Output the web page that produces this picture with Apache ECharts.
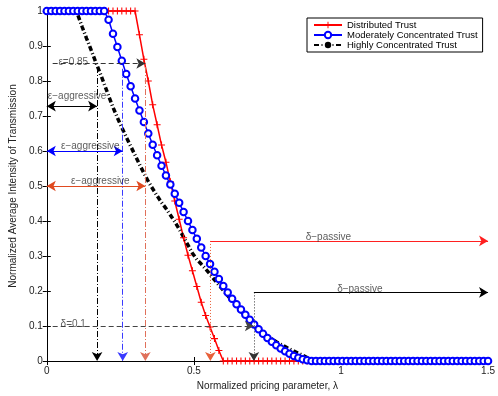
<!DOCTYPE html>
<html>
<head>
<meta charset="utf-8">
<script src="https://cdn.jsdelivr.net/npm/echarts@6/dist/echarts.min.js"></script>
<style>
  html, body { margin: 0; padding: 0; background: #fff; }
  #chart-container { width: 498px; height: 396px; }
</style>
</head>
<body>
<div id="chart-container"></div>
<script>
var dom = document.getElementById("chart-container");
var myChart = echarts.init(dom, null, { renderer: "canvas" });

// normalized pricing parameter (sample points of the curves)
var lambda = [
  0, 0.015, 0.03, 0.045, 0.06, 0.075, 0.09, 0.105, 0.12, 0.135,
  0.15, 0.165, 0.18, 0.195, 0.21, 0.225, 0.24, 0.255, 0.27, 0.285,
  0.3, 0.315, 0.33, 0.345, 0.36, 0.375, 0.39, 0.405, 0.42, 0.435,
  0.45, 0.465, 0.48, 0.495, 0.51, 0.525, 0.54, 0.555, 0.57, 0.585,
  0.6, 0.615, 0.63, 0.645, 0.66, 0.675, 0.69, 0.705, 0.72, 0.735,
  0.75, 0.765, 0.78, 0.795, 0.81, 0.825, 0.84, 0.855, 0.87, 0.885,
  0.9, 0.915, 0.93, 0.945, 0.96, 0.975, 0.99, 1.005, 1.02, 1.035,
  1.05, 1.065, 1.08, 1.095, 1.11, 1.125, 1.14, 1.155, 1.17, 1.185,
  1.2, 1.215, 1.23, 1.245, 1.26, 1.275, 1.29, 1.305, 1.32, 1.335,
  1.35, 1.365, 1.38, 1.395, 1.41, 1.425, 1.44, 1.455, 1.47, 1.485,
  1.5
];

var distributed = [
  1, 1, 1, 1, 1, 1, 1, 1, 1, 1,
  1, 1, 1, 1, 1, 1, 1, 1, 1, 1,
  1, 0.932, 0.862, 0.8, 0.732, 0.675, 0.617, 0.568, 0.512, 0.457,
  0.405, 0.352, 0.302, 0.258, 0.213, 0.168, 0.13, 0.097, 0.064, 0.03,
  0, 0, 0, 0, 0, 0, 0, 0, 0, 0,
  0, 0, 0, 0, 0, 0, 0, 0, 0, 0,
  0, 0, 0, 0, 0, 0, 0, 0, 0, 0,
  0, 0, 0, 0, 0, 0, 0, 0, 0, 0,
  0, 0, 0, 0, 0, 0, 0, 0, 0, 0,
  0, 0, 0, 0, 0, 0, 0, 0, 0, 0,
  0
];

var moderate = [
  1, 1, 1, 1, 1, 1, 1, 1, 1, 1,
  1, 1, 1, 1, 0.975, 0.935, 0.897, 0.858, 0.82, 0.785,
  0.75, 0.716, 0.683, 0.65, 0.618, 0.588, 0.558, 0.53, 0.504, 0.478,
  0.452, 0.426, 0.4, 0.374, 0.349, 0.324, 0.3, 0.277, 0.255, 0.234,
  0.214, 0.196, 0.178, 0.162, 0.147, 0.132, 0.118, 0.104, 0.091, 0.078,
  0.066, 0.055, 0.045, 0.036, 0.028, 0.021, 0.014, 0.009, 0.005, 0.002,
  0, 0, 0, 0, 0, 0, 0, 0, 0, 0,
  0, 0, 0, 0, 0, 0, 0, 0, 0, 0,
  0, 0, 0, 0, 0, 0, 0, 0, 0, 0,
  0, 0, 0, 0, 0, 0, 0, 0, 0, 0,
  0
];

var highly = [
  1, 1, 1, 1, 1, 1, 1, 0.99, 0.955, 0.922,
  0.89, 0.857, 0.825, 0.792, 0.758, 0.725, 0.695, 0.667, 0.64, 0.614,
  0.588, 0.562, 0.537, 0.513, 0.492, 0.472, 0.453, 0.436, 0.417, 0.398,
  0.377, 0.354, 0.331, 0.308, 0.29, 0.277, 0.263, 0.248, 0.232, 0.217,
  0.202, 0.187, 0.172, 0.157, 0.142, 0.128, 0.114, 0.1, 0.09, 0.08,
  0.071, 0.063, 0.055, 0.048, 0.041, 0.034, 0.028, 0.022, 0.016, 0.01,
  0.004, 0, 0, 0, 0, 0, 0, 0, 0, 0,
  0, 0, 0, 0, 0, 0, 0, 0, 0, 0,
  0, 0, 0, 0, 0, 0, 0, 0, 0, 0,
  0, 0, 0, 0, 0, 0, 0, 0, 0, 0,
  0
];

var seriesNames = ["Distributed Trust", "Moderately Concentrated Trust", "Highly Concentrated Trust"];

// thresholds and where the curves cross them
var epsLevel = 0.85;
var deltaLevel = 0.1;
var epsCross = { highly: 0.171, moderate: 0.258, distributed: 0.335 };
var aggressiveY = { highly: 0.728, moderate: 0.6, distributed: 0.5 };
var deltaCross = { distributed: 0.556, concentrated: 0.704 };
var passiveY = { distributed: 0.343, concentrated: 0.196 };

var notes = [
  { name: "ε=0.85", value: [0.09, 0.855] },
  { name: "ε−aggressive", value: [0.103, 0.757] },
  { name: "ε−aggressive", value: [0.148, 0.614] },
  { name: "ε−aggressive", value: [0.182, 0.513] },
  { name: "δ=0.1", value: [0.09, 0.106] },
  { name: "δ−passive", value: [0.957, 0.355] },
  { name: "δ−passive", value: [1.064, 0.206] }
];

var FONT = "Liberation Sans";

function pairs(ys) {
  return lambda.map(function (x, i) { return [x, ys[i]]; });
}

function seg(from, to, color, type, s0, s1) {
  return [
    { coord: from, symbol: s0, lineStyle: { color: color, type: type, width: 1 } },
    { coord: to, symbol: s1 }
  ];
}

var plus = "path://M-0.9,-6H0.9V-0.9H6V0.9H0.9V6H-0.9V0.9H-6V-0.9H-0.9Z";

var option = {
  animation: false,
  textStyle: { fontFamily: FONT },
  grid: { left: 43, right: 7, top: 11, bottom: 34 },
  legend: {
    data: seriesNames,
    orient: "vertical",
    left: 307,
    top: 18,
    padding: [2, 5, 2, 6],
    itemGap: 0,
    itemWidth: 28,
    itemHeight: 8,
    borderColor: "#000",
    borderWidth: 1,
    backgroundColor: "#fff",
    textStyle: { fontFamily: FONT, fontSize: 9.5, color: "#000", lineHeight: 9.5 }
  },
  xAxis: [
    {
      type: "value", min: 0, max: 1.5, interval: 0.5,
      name: "Normalized pricing parameter, λ",
      nameLocation: "middle", nameGap: 20,
      nameTextStyle: { fontFamily: FONT, fontSize: 10, color: "#222" },
      axisLine: { lineStyle: { color: "#000", width: 1 } },
      axisTick: { inside: true, length: 4, lineStyle: { color: "#000" } },
      axisLabel: { margin: 5, fontFamily: FONT, fontSize: 10, color: "#222" },
      splitLine: { show: false }
    },
    {
      type: "value", min: 0, max: 1.5, interval: 0.5, position: "top",
      axisLine: { show: true, lineStyle: { color: "#000", width: 1 } },
      axisTick: { inside: true, length: 4, lineStyle: { color: "#000" } },
      axisLabel: { show: false },
      splitLine: { show: false }
    }
  ],
  yAxis: [
    {
      type: "value", min: 0, max: 1, interval: 0.1,
      name: "Normalized Average Intensity of Transmission",
      nameLocation: "middle", nameGap: 25,
      nameTextStyle: { fontFamily: FONT, fontSize: 10, color: "#222" },
      axisLine: { show: true, lineStyle: { color: "#000", width: 1 } },
      axisTick: { show: true, inside: true, length: 4, lineStyle: { color: "#000" } },
      axisLabel: { margin: 4, fontFamily: FONT, fontSize: 10, color: "#222" },
      splitLine: { show: false }
    },
    {
      type: "value", min: 0, max: 1, interval: 0.1, position: "right",
      axisLine: { show: true, lineStyle: { color: "#000", width: 1 } },
      axisTick: { show: true, inside: true, length: 4, lineStyle: { color: "#000" } },
      axisLabel: { show: false },
      splitLine: { show: false }
    }
  ],
  series: [
    {
      name: seriesNames[0],
      type: "line",
      data: pairs(distributed),
      clip: false,
      showAllSymbol: true,
      symbol: plus,
      symbolSize: 7,
      itemStyle: { color: "#ff0000" },
      lineStyle: { color: "#ff0000", width: 1.5 },
      emphasis: { disabled: true }
    },
    {
      name: seriesNames[1],
      type: "line",
      data: pairs(moderate),
      clip: false,
      showAllSymbol: true,
      symbol: "emptyCircle",
      symbolSize: 6.5,
      itemStyle: { color: "#0000ff", borderWidth: 1.5 },
      lineStyle: { color: "#0000ff", width: 1.5 },
      emphasis: { disabled: true }
    },
    {
      name: seriesNames[2],
      type: "line",
      data: pairs(highly),
      clip: false,
      symbol: "none",
      itemStyle: { color: "#000" },
      lineStyle: { color: "#000", width: 3.5, type: [5, 2.5, 1, 2.5] },
      emphasis: { disabled: true }
    },
    {
      name: "notes",
      type: "scatter",
      data: notes,
      symbolSize: 1,
      silent: true,
      z: 5,
      itemStyle: { color: "rgba(0,0,0,0)" },
      label: {
        show: true, position: "inside", formatter: "{b}",
        fontFamily: FONT, fontSize: 10, color: "#333"
      },
      markLine: {
        silent: true,
        animation: false,
        symbolSize: [8, 9],
        label: { show: false },
        emphasis: { disabled: true },
        data: [
          seg([0.02, epsLevel], [epsCross.distributed, epsLevel], "#333", [5, 3], "none", "arrow"),
          seg([epsCross.highly, epsLevel - 0.01], [epsCross.highly, 0], "#000", [6, 2, 1, 2], "none", "arrow"),
          seg([epsCross.moderate, epsLevel - 0.015], [epsCross.moderate, 0], "#3a3aff", [6, 2, 1, 2], "none", "arrow"),
          seg([epsCross.distributed, epsLevel - 0.01], [epsCross.distributed, 0], "#e0705a", [6, 2, 1, 2], "none", "arrow"),
          seg([0, aggressiveY.highly], [epsCross.highly, aggressiveY.highly], "#000", "solid", "arrow", "arrow"),
          seg([0, aggressiveY.moderate], [epsCross.moderate, aggressiveY.moderate], "#0000ff", "solid", "arrow", "arrow"),
          seg([0, aggressiveY.distributed], [epsCross.distributed, aggressiveY.distributed], "#e04a20", "solid", "arrow", "arrow"),
          seg([0.02, deltaLevel], [deltaCross.concentrated, deltaLevel], "#444", [5, 3], "none", "arrow"),
          seg([deltaCross.distributed, passiveY.distributed], [deltaCross.distributed, 0], "#e8603a", [1, 2], "none", "arrow"),
          seg([deltaCross.distributed, passiveY.distributed], [1.5, passiveY.distributed], "#ff2020", "solid", "none", "arrow"),
          seg([deltaCross.concentrated, passiveY.concentrated], [deltaCross.concentrated, 0], "#333", [1, 2], "none", "arrow"),
          seg([deltaCross.concentrated, passiveY.concentrated], [1.5, passiveY.concentrated], "#000", "solid", "none", "arrow")
        ]
      }
    }
  ]
};

myChart.setOption(option);
window.addEventListener("resize", myChart.resize);
</script>
</body>
</html>
